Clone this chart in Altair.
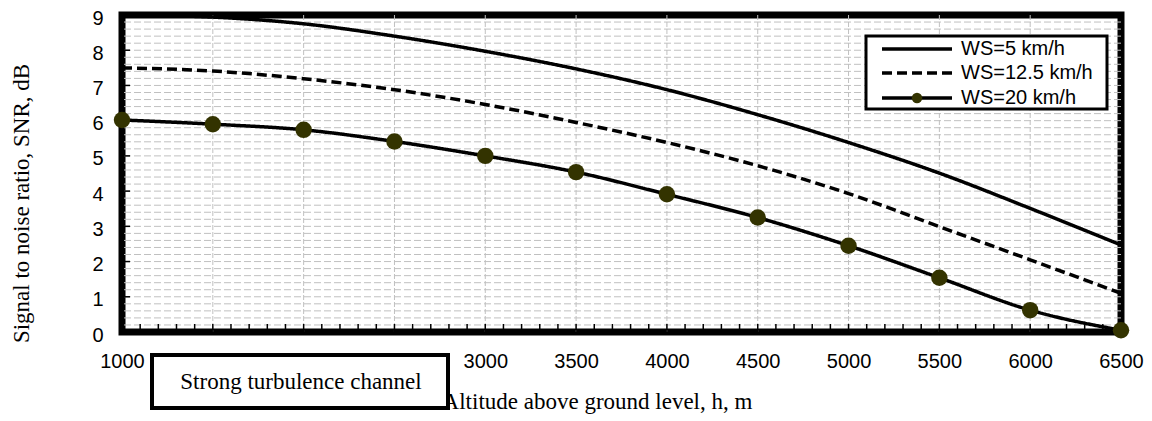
import altair as alt
import pandas as pd

# ---- data ----
altitude = [1000, 1500, 2000, 2500, 3000, 3500, 4000, 4500, 5000, 5500, 6000, 6500]
ws5 = [9.0, 8.94, 8.75, 8.40, 7.97, 7.47, 6.88, 6.17, 5.38, 4.51, 3.51, 2.47]
ws125 = [7.50, 7.41, 7.19, 6.88, 6.46, 5.95, 5.38, 4.72, 3.93, 2.99, 2.05, 1.10]
ws20 = [6.02, 5.90, 5.74, 5.41, 5.00, 4.54, 3.91, 3.25, 2.45, 1.54, 0.62, 0.05]
series_names = ["WS=5 km/h", "WS=12.5 km/h", "WS=20 km/h"]

x_major = [1000, 1500, 2000, 2500, 3000, 3500, 4000, 4500, 5000, 5500, 6000, 6500]
x_grid = [1500, 2000, 2500, 3000, 3500, 4000, 4500, 5000, 5500, 6000]
x_minor = [v for v in range(1100, 6500, 100)]
y_major = [0, 1, 2, 3, 4, 5, 6, 7, 8, 9]
y_grid = [round(i * 0.2, 1) for i in range(1, 45)]
y_inner_ticks = [1, 2, 3, 4, 5, 6, 7, 8]

x_title = "Altitude above ground level, h, m"
y_title = "Signal to noise ratio, SNR, dB"
box_text = "Strong turbulence channel"

W, H = 999, 317
SERIF = "Liberation Serif"
SANS = "Liberation Sans"
MARKER = "#333300"

rows = []
for name, vals in zip(series_names, [ws5, ws125, ws20]):
    for a, v in zip(altitude, vals):
        rows.append({"alt": a, "snr": v, "series": name})
df = pd.DataFrame(rows)

xs = alt.Scale(domain=[1000, 6500], nice=False, zero=False)
ys = alt.Scale(domain=[0, 9], nice=False, zero=True)
one = alt.Data(values=[{}])

x_axis = alt.Axis(
    values=x_major, format="d", labelFont=SANS, labelFontSize=20, labelColor="black",
    ticks=False, domain=False, grid=False, labelPadding=19, labelFlush=False,
    labelOverlap=False, title=x_title, titleFont=SERIF, titleFontSize=23,
    titleFontWeight="normal", titleColor="black", titleX=475, titleY=76,
    titleBaseline="alphabetic",
)
y_axis = alt.Axis(
    values=y_major, labelFont=SANS, labelFontSize=20, labelColor="black",
    ticks=False, domain=False, grid=False, labelPadding=19, labelFlush=False,
    labelOffset=3, labelOverlap=False, title=y_title, titleFont=SERIF, titleFontSize=23,
    titleFontWeight="normal", titleColor="black", titleX=-101, titleY=188,
    titleAngle=270, titleBaseline="middle",
)

# gridlines
hgrid = alt.Chart(pd.DataFrame({"v": y_grid})).mark_rule(
    color="#c0c0c0", strokeWidth=1, strokeDash=[7, 3]
).encode(y=alt.Y("v:Q", scale=ys, axis=y_axis))
vgrid = alt.Chart(pd.DataFrame({"v": x_grid})).mark_rule(
    color="#c0c0c0", strokeWidth=1, strokeDash=[5, 2]
).encode(x=alt.X("v:Q", scale=xs, axis=x_axis))

# inward ticks
xticks = alt.Chart(pd.DataFrame({"v": x_minor})).mark_rule(
    color="black", strokeWidth=1.5
).encode(x=alt.X("v:Q", scale=xs, axis=x_axis), y=alt.value(H - 8), y2=alt.value(H))
yticks = alt.Chart(pd.DataFrame({"v": y_inner_ticks})).mark_rule(
    color="black", strokeWidth=1.5
).encode(y=alt.Y("v:Q", scale=ys, axis=y_axis), x=alt.value(0), x2=alt.value(8))

lines = alt.Chart(df).mark_line(color="black", strokeWidth=3.5, interpolate="monotone").encode(
    x=alt.X("alt:Q", scale=xs, axis=x_axis),
    y=alt.Y("snr:Q", scale=ys, axis=y_axis),
    strokeDash=alt.StrokeDash(
        "series:N",
        scale=alt.Scale(domain=series_names, range=[[1, 0], [10, 5], [1, 0]]),
        legend=None,
    ),
    detail="series:N",
)

points = alt.Chart(df).transform_filter(alt.datum.series == series_names[2]).mark_point(
    filled=True, shape="circle", size=270, color=MARKER, opacity=1
).encode(
    x=alt.X("alt:Q", scale=xs, axis=x_axis),
    y=alt.Y("snr:Q", scale=ys, axis=y_axis),
)

# legend (drawn manually)
leg_box = alt.Chart(one).mark_rect(fill="white", stroke="black", strokeWidth=3).encode(
    x=alt.value(744), x2=alt.value(985), y=alt.value(21), y2=alt.value(94)
)
leg_rows = [34, 58, 83]
leg_layers = [leg_box]
dashes = [[1, 0], [10, 5], [1, 0]]
for i, (name, yy) in enumerate(zip(series_names, leg_rows)):
    leg_layers.append(
        alt.Chart(one).mark_rule(color="black", strokeWidth=3.5, strokeDash=dashes[i]).encode(
            x=alt.value(760), x2=alt.value(830), y=alt.value(yy)
        )
    )
    leg_layers.append(
        alt.Chart(one).mark_text(
            text=name, font=SANS, fontSize=20, align="left", baseline="middle", color="black"
        ).encode(x=alt.value(839), y=alt.value(yy))
    )
leg_layers.append(
    alt.Chart(one).mark_point(filled=True, shape="circle", size=110, color=MARKER, opacity=1).encode(
        x=alt.value(795), y=alt.value(leg_rows[2])
    )
)

# annotation box below the axis
ann_box = alt.Chart(one).mark_rect(fill="white", stroke="black", strokeWidth=4).encode(
    x=alt.value(30), x2=alt.value(326), y=alt.value(H + 23), y2=alt.value(H + 76)
)
ann_text = alt.Chart(one).mark_text(
    text=box_text, font=SERIF, fontSize=23, align="center", baseline="middle", color="black"
).encode(x=alt.value(179), y=alt.value(H + 50))

chart = alt.layer(
    hgrid, vgrid, xticks, yticks, lines, points, *leg_layers, ann_box, ann_text
).properties(
    width=W, height=H,
    autosize=alt.AutoSizeParams(type="none"),
    padding={"left": 114, "top": 7, "right": 23, "bottom": 82},
    background="white",
).configure_view(stroke="black", strokeWidth=7)

chart.save("out.html", embed_options={"renderer": "svg", "actions": False})
